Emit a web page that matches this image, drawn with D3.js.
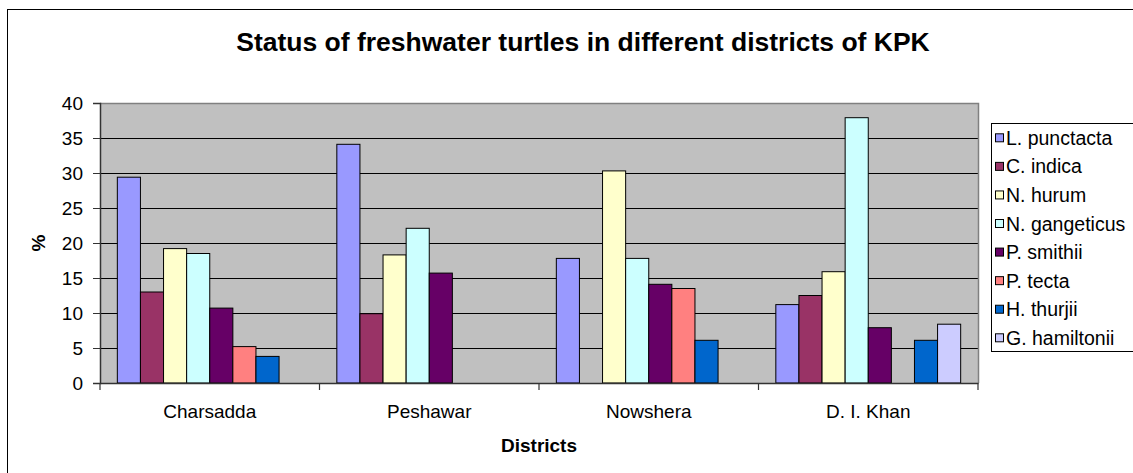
<!DOCTYPE html>
<html>
<head>
<meta charset="utf-8">
<script src="https://cdn.jsdelivr.net/npm/d3@7"></script>
<style>
  html, body { margin: 0; padding: 0; background: #fff; overflow: hidden; }
  svg { display: block; font-family: Arial, "Liberation Sans", sans-serif; }
</style>
</head>
<body>
<svg id="chart" width="1133" height="473"></svg>
<script>
const districts = ["Charsadda", "Peshawar", "Nowshera", "D. I. Khan"];
const species = ["L. punctacta", "C. indica", "N. hurum", "N. gangeticus", "P. smithii", "P. tecta", "H. thurjii", "G. hamiltonii"];
const colors = ["#9999FF", "#993366", "#FFFFCC", "#CCFFFF", "#660066", "#FF8080", "#0066CC", "#CCCCFF"];
// values per species, in district order
const lPunctacta = [29.4, 34.1, 17.8, 11.2];
const cIndica = [13.0, 9.9, 0, 12.5];
const nHurum = [19.2, 18.3, 30.3, 15.9];
const nGangeticus = [18.5, 22.1, 17.8, 37.9];
const pSmithii = [10.7, 15.7, 14.1, 7.9];
const pTecta = [5.2, 0, 13.5, 0];
const hThurjii = [3.8, 0, 6.1, 6.1];
const gHamiltonii = [0, 0, 0, 8.4];
const yTicks = [0, 5, 10, 15, 20, 25, 30, 35, 40];
const title = "Status of freshwater turtles in different districts of KPK";
const xTitle = "Districts";
const yTitle = "%";

const seriesValues = [lPunctacta, cIndica, nHurum, nGangeticus, pSmithii, pTecta, hThurjii, gHamiltonii];
const data = [];
districts.forEach((d, i) => {
  species.forEach((s, j) => {
    data.push({ district: d, species: s, value: seriesValues[j][i], color: colors[j] });
  });
});

const svg = d3.select("#chart");
const plot = { left: 100, right: 978, top: 103, bottom: 383 };
const FONT = 'Arial, "Liberation Sans", sans-serif';

// outer chart border
svg.append("rect").attr("x", 7.5).attr("y", 9.5).attr("width", 1200).attr("height", 600)
  .attr("fill", "#fff").attr("stroke", "#000").attr("stroke-width", 1);

const x = d3.scaleBand().domain(districts).range([plot.left, plot.right]).paddingInner(0).paddingOuter(0);
const xs = d3.scaleBand().domain(species).range([0, x.bandwidth()]).paddingInner(0).paddingOuter(0.75);
const y = d3.scaleLinear().domain([0, 40]).range([plot.bottom, plot.top]);

// plot background
svg.append("rect").attr("x", plot.left).attr("y", plot.top)
  .attr("width", plot.right - plot.left).attr("height", plot.bottom - plot.top)
  .attr("fill", "#C0C0C0");

// gridlines
svg.append("g").selectAll("line").data(yTicks.filter(t => t > 0 && t < 40)).join("line")
  .attr("x1", plot.left).attr("x2", plot.right)
  .attr("y1", d => Math.round(y(d)) + 0.5).attr("y2", d => Math.round(y(d)) + 0.5)
  .attr("stroke", "#000").attr("stroke-width", 1);

// plot border top/right
svg.append("path")
  .attr("d", `M${plot.left},${plot.top + 0.5}H${plot.right + 0.5}V${plot.bottom}`)
  .attr("fill", "none").attr("stroke", "#808080").attr("stroke-width", 1.5);

// bars
svg.append("g").selectAll("rect").data(data.filter(d => d.value > 0)).join("rect")
  .attr("x", d => x(d.district) + xs(d.species))
  .attr("y", d => y(d.value))
  .attr("width", xs.bandwidth())
  .attr("height", d => y(0) - y(d.value))
  .attr("fill", d => d.color)
  .attr("stroke", "#000").attr("stroke-width", 1);

// y axis
const yAxis = d3.axisLeft(y).tickValues(yTicks).tickSize(7).tickPadding(10);
const gy = svg.append("g").attr("transform", `translate(${plot.left},0)`).call(yAxis);
gy.select(".domain").attr("stroke", "#333").attr("stroke-width", 1.5);
gy.selectAll(".tick line").attr("stroke", "#333");
gy.selectAll("text").attr("font-size", 19).attr("font-family", FONT).attr("fill", "#000");

// x axis
const xAxis = d3.axisBottom(x).tickSize(0).tickPadding(22);
const gx = svg.append("g").attr("transform", `translate(0,${plot.bottom})`).call(xAxis);
gx.select(".domain").attr("stroke", "#333").attr("stroke-width", 1.5);
gx.selectAll("text").attr("font-size", 19).attr("font-family", FONT).attr("fill", "#000");
// boundary ticks between categories
const bounds = districts.map(d => x(d)).concat([plot.right]);
svg.append("g").selectAll("line").data(bounds).join("line")
  .attr("x1", d => d).attr("x2", d => d)
  .attr("y1", plot.bottom).attr("y2", plot.bottom + 7)
  .attr("stroke", "#333").attr("stroke-width", 1.2);

// titles
svg.append("text").attr("x", 583).attr("y", 51).attr("text-anchor", "middle")
  .attr("font-size", 26.5).attr("font-weight", "bold").attr("font-family", FONT).text(title);
svg.append("text").attr("x", (plot.left + plot.right) / 2).attr("y", 452).attr("text-anchor", "middle")
  .attr("font-size", 19).attr("font-weight", "bold").attr("font-family", FONT).text(xTitle);
svg.append("text").attr("transform", `translate(45,${(plot.top + plot.bottom) / 2}) rotate(-90)`)
  .attr("text-anchor", "middle")
  .attr("font-size", 19).attr("font-weight", "bold").attr("font-family", FONT).text(yTitle);

// legend
const lg = svg.append("g");
lg.append("rect").attr("x", 991.5).attr("y", 123.5).attr("width", 200).attr("height", 228)
  .attr("fill", "#fff").attr("stroke", "#000").attr("stroke-width", 1);
const ly = d3.scalePoint().domain(species).range([138.3, 338.3]);
const items = lg.selectAll("g.item").data(species).join("g").attr("class", "item")
  .attr("transform", s => `translate(0,${ly(s)})`);
items.append("rect").attr("x", 995.5).attr("y", -4.5).attr("width", 8).attr("height", 8)
  .attr("fill", (s, i) => colors[i]).attr("stroke", "#000").attr("stroke-width", 1);
items.append("text").attr("x", 1006).attr("y", 6.5).attr("font-size", 19.5).attr("font-family", FONT)
  .text(s => s);
</script>
</body>
</html>
